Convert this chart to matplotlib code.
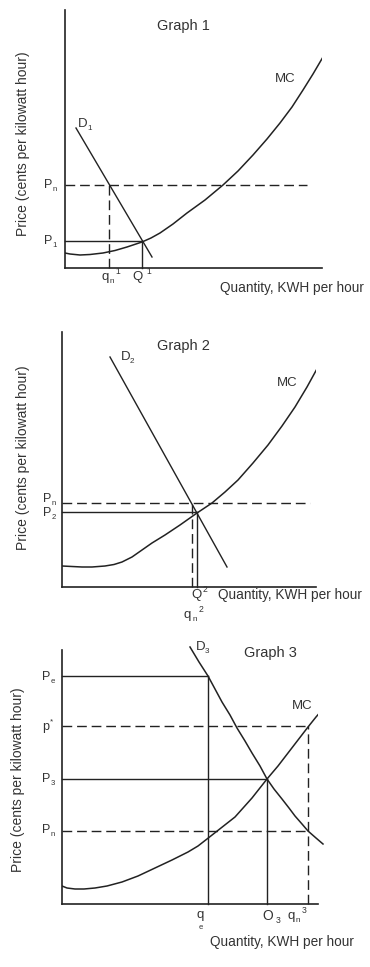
import matplotlib
matplotlib.use('Agg')
import matplotlib.pyplot as plt

plt.rcParams['font.family'] = ['Liberation Sans', 'DejaVu Sans']

INK = '#222222'
TXT = '#333333'

# --------------------------------------------------------------------------------
# graph 1 (quantity / price in drawing units, origin at the axes corner)

g1_mc_q = [0, 5, 15, 25, 38, 50, 62, 77, 86, 95, 108, 122, 140, 158, 173, 188,
           202, 215, 227, 238, 248, 258]
g1_mc_p = [15, 14, 13, 13.5, 15, 17.5, 21, 26, 30, 35, 44, 55, 68, 83, 97, 113,
           129, 145, 161, 178, 194, 211]
g1_d_q = [11, 87]
g1_d_p = [140, 11]
g1_pn = 83
g1_p1 = 27
g1_qn = 44
g1_q1 = 77

# graph 2
g2_mc_q = [0, 10, 20, 30, 43, 52, 60, 70, 80, 90, 103, 118, 135, 150, 163, 176,
           191, 206, 220, 233, 245, 256]
g2_mc_p = [21, 20.5, 20, 20, 21, 22.5, 25, 30, 37, 44, 52, 62, 74, 84, 95, 107,
           124, 142, 161, 180, 200, 220]
g2_d_q = [48, 165]
g2_d_p = [230, 20]
g2_pn = 84
g2_p2 = 75
g2_qn = 130
g2_q2 = 135

# graph 3
g3_mc_q = [0, 5, 13, 22, 33, 45, 60, 76, 93, 110, 126, 136, 145, 159, 173, 190,
           205, 216, 226, 236, 246, 254, 261]
g3_mc_p = [18, 16, 15, 15, 16, 18, 22, 28, 36, 44, 52, 58, 65, 76, 87, 106,
           125, 138, 151, 164, 177, 187, 195]
g3_d_q = [128, 137, 146, 153, 160, 168, 175, 183, 190, 198, 205, 212, 220, 227,
          233, 240, 246, 254, 261]
g3_d_p = [257, 242, 228, 215, 202, 189, 176, 163, 151, 138, 125, 115, 105, 96,
          88, 80, 73, 66, 60]
g3_pe = 228
g3_pstar = 178
g3_p3 = 125
g3_pn = 73
g3_qe = 146
g3_o3 = 205
g3_qn = 246

# --------------------------------------------------------------------------------

W, H = 370, 967
fig = plt.figure(figsize=(W / 100, H / 100), dpi=100)
fig.patch.set_facecolor('white')

DASH = (0, (7, 3.5))


def make_axes(x0, y0, xmax, ymax):
    ax = fig.add_axes([x0 / W, (H - y0) / H, xmax / W, ymax / H])
    ax.set_xlim(0, xmax)
    ax.set_ylim(0, ymax)
    for s in ['top', 'right']:
        ax.spines[s].set_visible(False)
    for s in ['left', 'bottom']:
        ax.spines[s].set_color(INK)
        ax.spines[s].set_linewidth(1.2)
    ax.set_xticks([])
    ax.set_yticks([])
    ax.patch.set_alpha(0)
    return ax


def hline(ax, y, x1, dashed=False):
    ax.plot([0, x1], [y, y], color=INK, lw=1.0,
            linestyle=DASH if dashed else '-', clip_on=False)


def vline(ax, x, y1, dashed=False):
    ax.plot([x, x], [0, y1], color=INK, lw=1.0,
            linestyle=DASH if dashed else '-', clip_on=False)


def small(ax, x, y, s, dx, dy, size):
    ax.annotate(s, (x, y), xytext=(dx, dy), textcoords='offset points',
                fontsize=size, color=TXT, ha='left', va='center',
                annotation_clip=False)


def lab(ax, x, y, base, sub=None, sup=None, size=9, dx=None, sup_dx=None):
    ax.text(x, y, base, fontsize=size, color=TXT, ha='left', va='center')
    if dx is None:
        dx = 0.68 * size
    if sub:
        small(ax, x, y, sub, dx, -3.2, size * 0.62)
    if sup:
        if sup_dx is None:
            sup_dx = dx + (4.5 if sub else 0.5)
        small(ax, x, y, sup, sup_dx, 4.0, size * 0.65)


def ylab(ax, x, y):
    ax.text(x, y, 'Price (cents per kilowatt hour)', rotation=90, fontsize=10,
            color=TXT, ha='center', va='center')


# ---- graph 1
ax1 = make_axes(65, 268, 257, 258)
ax1.plot(g1_mc_q, g1_mc_p, color=INK, lw=1.1)
ax1.plot(g1_d_q, g1_d_p, color=INK, lw=1.0)
hline(ax1, g1_pn, 242, dashed=True)
hline(ax1, g1_p1, g1_q1)
vline(ax1, g1_qn, g1_pn, dashed=True)
vline(ax1, g1_q1, g1_p1)
ax1.text(118, 242, 'Graph 1', fontsize=10.5, color=TXT, ha='center', va='center')
ax1.text(220, 189, 'MC', fontsize=9.5, color=TXT, ha='center', va='center')
lab(ax1, 13, 144, 'D', sub='1', size=9.5)
lab(ax1, -21, 83, 'P', sub='n', size=9)
lab(ax1, -21, 27, 'P', sub='1', size=9)
lab(ax1, 36, -9, 'q', sub='n', sup='1', size=9.5, dx=6)
lab(ax1, 67, -9, 'Q', sup='1', size=9.5, dx=7.5, sup_dx=10.5)
ax1.text(155, -20, 'Quantity, KWH per hour', fontsize=9.8, color=TXT,
         ha='left', va='center')
ylab(ax1, -42, 124)

# ---- graph 2
ax2 = make_axes(62, 587, 254, 255)
ax2.plot(g2_mc_q, g2_mc_p, color=INK, lw=1.1)
ax2.plot(g2_d_q, g2_d_p, color=INK, lw=1.0)
hline(ax2, g2_pn, 248, dashed=True)
hline(ax2, g2_p2, g2_q2)
vline(ax2, g2_qn, g2_pn, dashed=True)
vline(ax2, g2_q2, g2_p2)
ax2.text(121, 241, 'Graph 2', fontsize=10.5, color=TXT, ha='center', va='center')
ax2.text(225, 204, 'MC', fontsize=9.5, color=TXT, ha='center', va='center')
lab(ax2, 59, 230, 'D', sub='2', size=9.5)
lab(ax2, -19, 88, 'P', sub='n', size=9)
lab(ax2, -19, 74, 'P', sub='2', size=9)
lab(ax2, 129, -8, 'Q', sup='2', size=9.5, dx=7, sup_dx=8)
lab(ax2, 122, -28, 'q', sub='n', sup='2', size=9.5, dx=6)
ax2.text(156, -8, 'Quantity, KWH per hour', fontsize=9.8, color=TXT,
         ha='left', va='center')
ylab(ax2, -39, 129)

# ---- graph 3
ax3 = make_axes(62, 904, 256, 254)
ax3.plot(g3_mc_q, g3_mc_p, color=INK, lw=1.1)
ax3.plot(g3_d_q, g3_d_p, color=INK, lw=1.1, clip_on=False)
hline(ax3, g3_pe, g3_qe)
hline(ax3, g3_pstar, g3_qn, dashed=True)
hline(ax3, g3_p3, g3_o3)
hline(ax3, g3_pn, g3_qn, dashed=True)
vline(ax3, g3_qe, g3_pe)
vline(ax3, g3_o3, g3_p3)
vline(ax3, g3_qn, g3_pstar, dashed=True)
ax3.text(208, 251, 'Graph 3', fontsize=10.5, color=TXT, ha='center', va='center')
ax3.text(240, 198, 'MC', fontsize=9.5, color=TXT, ha='center', va='center')
lab(ax3, 134, 257, 'D', sub='3', size=9.5)
lab(ax3, -20, 227, 'P', sub='e', size=9)
lab(ax3, -20, 177, 'p', sup='*', size=9, dx=5, sup_dx=5.5)
lab(ax3, -20, 125, 'P', sub='3', size=9)
lab(ax3, -20, 74, 'P', sub='n', size=9)
lab(ax3, 134, -11, 'q', size=9.5)
small(ax3, 134, -11, 'e', 2.2, -9, 5.5)
lab(ax3, 200, -12, 'O', sub='3', size=10, dx=10)
lab(ax3, 225, -12, 'q', sub='n', sup='3', size=9.5, dx=6)
ax3.text(148, -38, 'Quantity, KWH per hour', fontsize=9.8, color=TXT,
         ha='left', va='center')
ylab(ax3, -44, 124)

fig.savefig('out.png', dpi=100, facecolor='white')
